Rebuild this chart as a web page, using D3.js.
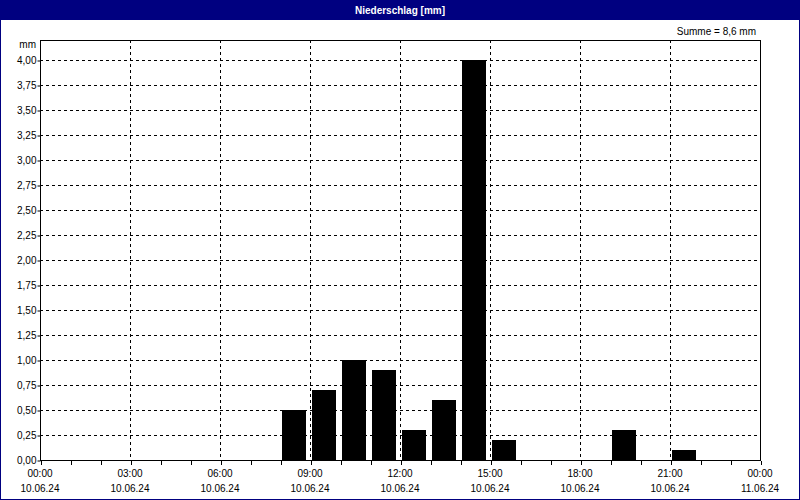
<!DOCTYPE html>
<html><head><meta charset="utf-8">
<script src="https://cdn.jsdelivr.net/npm/d3@7"></script>
<style>
html,body{margin:0;padding:0;background:#fff;}
svg{display:block;}
text{font-family:"Liberation Sans",Arial,sans-serif;font-size:10px;fill:#000;}
</style></head><body>
<svg id="c" width="800" height="500"></svg>
<script>
const title = "Niederschlag [mm]";
const unitLabel = "mm";
const sumLabel = "Summe = 8,6 mm";
// hourly precipitation: start hour of interval and amount (mm)
const hours  = [8, 9, 10, 11, 12, 13, 14, 15, 19, 21];
const values = [0.5, 0.7, 1.0, 0.9, 0.3, 0.6, 4.0, 0.2, 0.3, 0.1];
const xTickHours = [0, 3, 6, 9, 12, 15, 18, 21, 24];
const xTimeLabels = ["00:00","03:00","06:00","09:00","12:00","15:00","18:00","21:00","00:00"];
const xDateLabels = ["10.06.24","10.06.24","10.06.24","10.06.24","10.06.24","10.06.24","10.06.24","10.06.24","11.06.24"];
const yTicks = [0,0.25,0.5,0.75,1,1.25,1.5,1.75,2,2.25,2.5,2.75,3,3.25,3.5,3.75,4];

const svg = d3.select("#c");
const W = 800, H = 500;
const L = 40, R = 760, T = 40, B = 460;

svg.append("rect").attr("x",0).attr("y",0).attr("width",W).attr("height",H).attr("fill","#ffffff");
// title bar
svg.append("rect").attr("x",0).attr("y",0).attr("width",W).attr("height",20).attr("fill","#000080");
svg.append("rect").attr("x",0.5).attr("y",0.5).attr("width",W-1).attr("height",H-1)
  .attr("fill","none").attr("stroke","#000080").attr("stroke-width",1);
svg.append("text").attr("x",W/2).attr("y",14).attr("text-anchor","middle")
  .style("fill","#fff").style("font-weight","bold").text(title);

const x = d3.scaleLinear().domain([0,24]).range([L,R]);
const y = d3.scaleLinear().domain([0,4.2]).range([B,T]);

const g = svg.append("g");
// grid
g.selectAll(".hg").data(yTicks.filter(d=>d>0)).join("line")
  .attr("x1",L).attr("x2",R).attr("y1",d=>Math.round(y(d))+0.5).attr("y2",d=>Math.round(y(d))+0.5)
  .attr("stroke","#000").attr("stroke-dasharray","3,3").attr("shape-rendering","crispEdges");
g.selectAll(".vg").data(xTickHours.filter(d=>d>0&&d<24)).join("line")
  .attr("y1",T).attr("y2",B).attr("x1",d=>Math.round(x(d))+0.5).attr("x2",d=>Math.round(x(d))+0.5)
  .attr("stroke","#000").attr("stroke-dasharray","3,3").attr("shape-rendering","crispEdges");

// bars
const bw = x(1)-x(0);
g.selectAll(".bar").data(hours.map((h,i)=>({h,v:values[i]}))).join("rect")
  .attr("x",d=>x(d.h)+2).attr("width",bw-6)
  .attr("y",d=>y(d.v)).attr("height",d=>y(0)-y(d.v))
  .attr("fill","#000").attr("shape-rendering","crispEdges");

// frame
svg.append("rect").attr("x",L+0.5).attr("y",T+0.5).attr("width",R-L).attr("height",B-T)
  .attr("fill","none").attr("stroke","#000").attr("shape-rendering","crispEdges");

// y axis
const yAxis = d3.axisLeft(y).tickValues(yTicks).tickSize(3)
  .tickFormat(d=>d3.format(".2f")(d).replace(".",","));
const ya = svg.append("g").attr("transform",`translate(${L+0.5},0.5)`).call(yAxis);
ya.select(".domain").remove();
ya.selectAll("text").attr("x",-4).style("font-family",'"Liberation Sans",Arial,sans-serif').style("font-size","10px");

// x axis minor ticks
const xAxis = d3.axisBottom(x).tickValues(d3.range(0,25)).tickSize(4).tickFormat("");
const xa = svg.append("g").attr("transform",`translate(0.5,${B+0.5})`).call(xAxis);
xa.select(".domain").remove();
xa.selectAll("line").attr("shape-rendering","crispEdges");

svg.selectAll(".xt").data(xTickHours).join("text")
  .attr("x",d=>x(d)).attr("y",477).attr("text-anchor","middle")
  .text((d,i)=>xTimeLabels[i]);
svg.selectAll(".xd").data(xTickHours).join("text")
  .attr("x",d=>x(d)).attr("y",492).attr("text-anchor","middle")
  .text((d,i)=>xDateLabels[i]);

svg.append("text").attr("x",36).attr("y",48).attr("text-anchor","end").text(unitLabel);
svg.append("text").attr("x",756).attr("y",35).attr("text-anchor","end").text(sumLabel);
</script>
</body></html>
